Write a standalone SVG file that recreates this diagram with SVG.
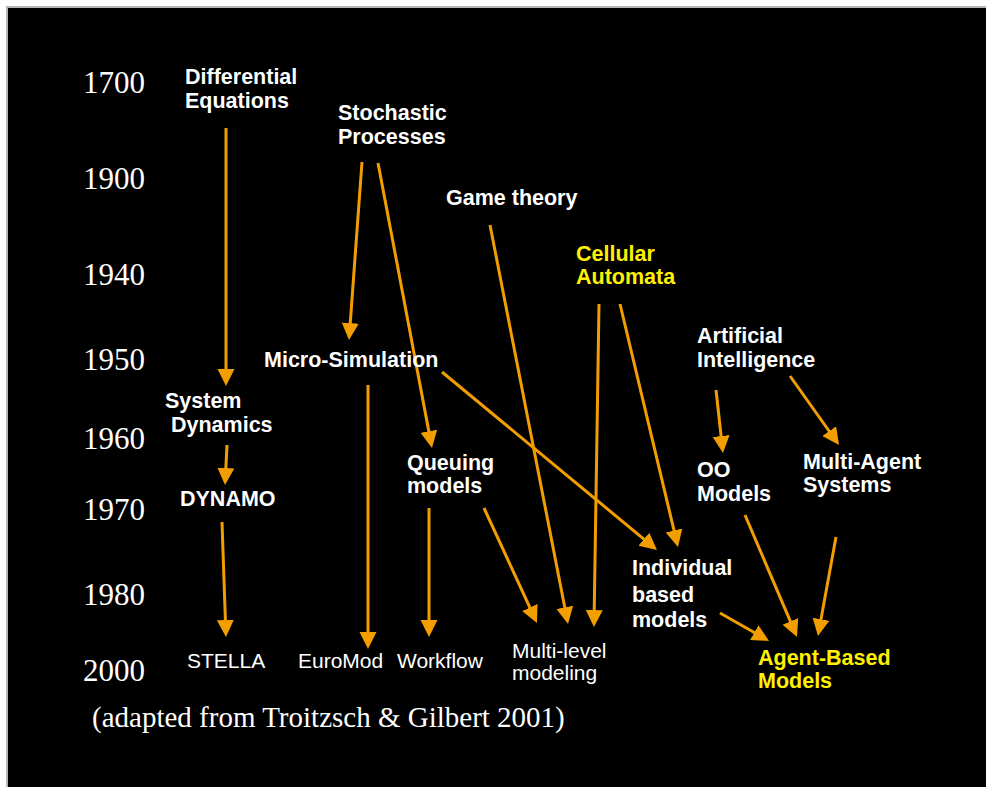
<svg xmlns="http://www.w3.org/2000/svg" width="986" height="787" viewBox="0 0 986 787">
  <style>
    .yr { font-family: "Liberation Serif", "Times New Roman", serif; font-size: 31px; fill: #ffffff; }
    .cite { font-family: "Liberation Serif", "Times New Roman", serif; font-size: 29px; fill: #ffffff; }
    .lbl { font-family: "Liberation Sans", Arial, Helvetica, sans-serif; font-size: 21.5px; font-weight: bold; fill: #ffffff; }
    .hl { fill: #fff000; }
    .tool { font-family: "Liberation Sans", Arial, Helvetica, sans-serif; font-size: 21px; fill: #ffffff; }
    .arr { stroke: #f29e00; stroke-width: 3; fill: none; marker-end: url(#head); }
  </style>
  <defs>
    <marker id="head" markerUnits="userSpaceOnUse" markerWidth="18" markerHeight="18" refX="9" refY="8.5" orient="auto">
      <path d="M0,0 L17,8.5 L0,17 Z" fill="#f29e00"/>
    </marker>
  </defs>

  <!-- page frame -->
  <rect x="0" y="0" width="986" height="787" fill="#ffffff"/>
  <rect x="6" y="6" width="980" height="781" fill="#b4b4b4"/>
  <rect x="8" y="8" width="978" height="779" fill="#000000"/>

  <!-- time axis -->
  <g id="years">
    <text class="yr" x="83" y="93">1700</text>
    <text class="yr" x="83" y="189">1900</text>
    <text class="yr" x="83" y="285">1940</text>
    <text class="yr" x="83" y="370">1950</text>
    <text class="yr" x="83" y="449">1960</text>
    <text class="yr" x="83" y="520">1970</text>
    <text class="yr" x="83" y="605">1980</text>
    <text class="yr" x="83" y="681">2000</text>
  </g>

  <!-- connectors -->
  <g id="connectors">
    <line class="arr" x1="226" y1="128" x2="226" y2="378"/>
    <line class="arr" x1="227" y1="445" x2="225.4" y2="477"/>
    <line class="arr" x1="222" y1="522" x2="225.7" y2="629"/>
    <line class="arr" x1="362" y1="162" x2="349.6" y2="332"/>
    <line class="arr" x1="378" y1="163" x2="430.5" y2="440.1"/>
    <line class="arr" x1="368" y1="385" x2="368" y2="641"/>
    <line class="arr" x1="442" y1="372" x2="650.8" y2="544.9"/>
    <line class="arr" x1="429" y1="508" x2="429" y2="629"/>
    <line class="arr" x1="484" y1="508" x2="533.6" y2="615.7"/>
    <line class="arr" x1="490" y1="225" x2="566.5" y2="616.2"/>
    <line class="arr" x1="599" y1="304" x2="594.1" y2="619"/>
    <line class="arr" x1="620" y1="304" x2="676.1" y2="539.2"/>
    <line class="arr" x1="716" y1="390" x2="722.1" y2="445"/>
    <line class="arr" x1="790" y1="376" x2="834.4" y2="438.5"/>
    <line class="arr" x1="745" y1="515" x2="793.9" y2="629.6"/>
    <line class="arr" x1="836" y1="537" x2="819.4" y2="628.1"/>
    <line class="arr" x1="720" y1="613" x2="762.1" y2="637"/>
  </g>

  <!-- approaches -->
  <g id="differential-equations">
    <text class="lbl" x="185" y="84">Differential</text>
    <text class="lbl" x="185" y="108">Equations</text>
  </g>
  <g id="stochastic-processes">
    <text class="lbl" x="338" y="120">Stochastic</text>
    <text class="lbl" x="338" y="144">Processes</text>
  </g>
  <g id="game-theory">
    <text class="lbl" x="446" y="205">Game theory</text>
  </g>
  <g id="cellular-automata">
    <text class="lbl hl" x="576" y="261">Cellular</text>
    <text class="lbl hl" x="576" y="284">Automata</text>
  </g>
  <g id="artificial-intelligence">
    <text class="lbl" x="697" y="343">Artificial</text>
    <text class="lbl" x="697" y="367">Intelligence</text>
  </g>
  <g id="micro-simulation">
    <text class="lbl" x="264" y="367">Micro-Simulation</text>
  </g>
  <g id="system-dynamics">
    <text class="lbl" x="165" y="408">System</text>
    <text class="lbl" x="171" y="432">Dynamics</text>
  </g>
  <g id="dynamo">
    <text class="lbl" x="180" y="506">DYNAMO</text>
  </g>
  <g id="queuing-models">
    <text class="lbl" x="407" y="470">Queuing</text>
    <text class="lbl" x="407" y="493">models</text>
  </g>
  <g id="oo-models">
    <text class="lbl" x="697" y="477">OO</text>
    <text class="lbl" x="697" y="501">Models</text>
  </g>
  <g id="multi-agent-systems">
    <text class="lbl" x="803" y="469">Multi-Agent</text>
    <text class="lbl" x="803" y="492">Systems</text>
  </g>
  <g id="individual-based-models">
    <text class="lbl" x="632" y="575">Individual</text>
    <text class="lbl" x="632" y="602">based</text>
    <text class="lbl" x="632" y="627">models</text>
  </g>
  <g id="agent-based-models">
    <text class="lbl hl" x="758" y="665">Agent-Based</text>
    <text class="lbl hl" x="758" y="688">Models</text>
  </g>

  <!-- tools and outcomes -->
  <g id="stella">
    <text class="tool" x="187" y="668">STELLA</text>
  </g>
  <g id="euromod">
    <text class="tool" x="298" y="668">EuroMod</text>
  </g>
  <g id="workflow">
    <text class="tool" x="397" y="668">Workflow</text>
  </g>
  <g id="multi-level-modeling">
    <text class="tool" x="512" y="658">Multi-level</text>
    <text class="tool" x="512" y="680">modeling</text>
  </g>

  <text class="cite" x="92" y="727">(adapted from Troitzsch &amp; Gilbert 2001)</text>
</svg>
